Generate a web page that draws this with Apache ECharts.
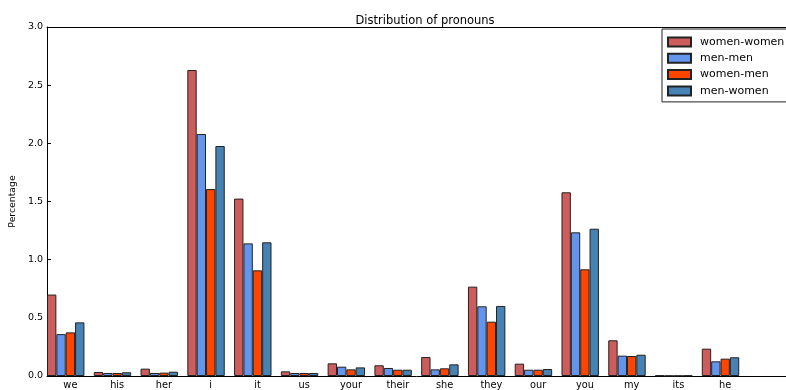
<!DOCTYPE html>
<html>
<head>
<meta charset="utf-8">
<script src="https://cdn.jsdelivr.net/npm/echarts@6/dist/echarts.min.js"></script>
<style>
html,body{margin:0;padding:0;background:#fff;}
#c{width:786px;height:390px;}
</style>
</head>
<body>
<div id="c"></div>
<script>
const pronouns = ['we','his','her','i','it','us','your','their','she','they','our','you','my','its','he'];
const seriesNames = ['women-women','men-men','women-men','men-women'];
const womenWomen = [0.70, 0.034, 0.063, 2.63, 1.525, 0.040, 0.109, 0.092, 0.163, 0.768, 0.106, 1.579, 0.307, 0.005, 0.235];
const menMen     = [0.36, 0.026, 0.026, 2.08, 1.140, 0.026, 0.080, 0.069, 0.057, 0.599, 0.054, 1.235, 0.175, 0.002, 0.126];
const womenMen   = [0.375, 0.026, 0.029, 1.607, 0.908, 0.026, 0.057, 0.054, 0.066, 0.467, 0.054, 0.917, 0.172, 0.002, 0.149];
const menWomen   = [0.461, 0.032, 0.037, 1.977, 1.149, 0.026, 0.074, 0.054, 0.100, 0.602, 0.060, 1.266, 0.183, 0.004, 0.161];
const yTicks = ['0.0','0.5','1.0','1.5','2.0','2.5','3.0'];
const colors = ['#CD5C5C','#6495ED','#FF4500','#4682B4'];

// each pronoun occupies 5 sub-slots (4 bars + gap); the visible range ends ~1 sub-slot before 16 units
const SUB = 5, NSLOTS = 79;
const subCats = [];
for (let i = 0; i < NSLOTS; i++) {
  const u = Math.floor(i / SUB), s = i % SUB;
  subCats.push(s === 2 && u < pronouns.length ? pronouns[u] : '');
}
const showAt = (i) => i % SUB === 2 && Math.floor(i / SUB) < pronouns.length;
const allVals = [womenWomen, menMen, womenMen, menWomen];
function spread(vals, k) {
  const arr = new Array(NSLOTS).fill(null);
  vals.forEach((v, u) => { arr[u * SUB + k] = v; });
  return arr;
}

const chart = echarts.init(document.getElementById('c'), null, {renderer: 'canvas'});
const font = 'DejaVu Sans';
chart.setOption({
  animation: false,
  textStyle: {fontFamily: font},
  title: {
    text: 'Distribution of pronouns',
    left: 420, top: 10, textAlign: 'center',
    textStyle: {fontFamily: font, fontSize: 11.5, fontWeight: 'normal', color: '#000'}
  },
  legend: {
    orient: 'vertical',
    left: 662, top: 29,
    data: seriesNames,
    icon: 'rect',
    itemWidth: 23, itemHeight: 9, itemGap: 3.3,
    padding: [6.5, 12, 4.5, 5],
    borderColor: '#222', borderWidth: 1,
    backgroundColor: '#fff',
    textStyle: {fontFamily: font, fontSize: 11, color: '#000', lineHeight: 13, padding: [0, 0, 0, 4]}
  },
  grid: {left: 44, top: 27, bottom: 14, right: 0, containLabel: false},
  xAxis: [
    {
      type: 'category', data: subCats, boundaryGap: true, position: 'bottom',
      axisLine: {lineStyle: {color: '#000', width: 1}},
      axisTick: {inside: true, length: 4, alignWithLabel: true, interval: (i) => showAt(i), lineStyle: {color: '#000'}},
      axisLabel: {interval: (i) => showAt(i), fontFamily: font, fontSize: 9.8, color: '#000', margin: 4},
      splitLine: {show: false}
    },
    {
      type: 'category', data: subCats, boundaryGap: true, position: 'top',
      axisLine: {lineStyle: {color: '#000', width: 1}},
      axisTick: {inside: true, length: 4, alignWithLabel: true, interval: (i) => showAt(i), lineStyle: {color: '#000'}},
      axisLabel: {show: false},
      splitLine: {show: false}
    }
  ],
  yAxis: {
    type: 'value', min: 0, max: 3, interval: 0.5,
    name: 'Percentage', nameLocation: 'middle', nameGap: 24, nameRotate: 90,
    nameTextStyle: {fontFamily: font, fontSize: 9.3, color: '#000'},
    axisLine: {show: true, lineStyle: {color: '#000', width: 1}},
    axisTick: {show: true, inside: true, length: 4, lineStyle: {color: '#000'}},
    axisLabel: {fontFamily: font, fontSize: 9.5, color: '#000', margin: 4,
      formatter: (v) => yTicks[Math.round(v / 0.5)]},
    splitLine: {show: false}
  },
  series: seriesNames.map((name, k) => ({
    name: name,
    type: 'bar',
    xAxisIndex: 0,
    data: spread(allVals[k], k),
    barWidth: '100%',
    barGap: '-100%',
    itemStyle: {color: colors[k], borderColor: '#222', borderWidth: 1}
  }))
});
</script>
</body>
</html>
